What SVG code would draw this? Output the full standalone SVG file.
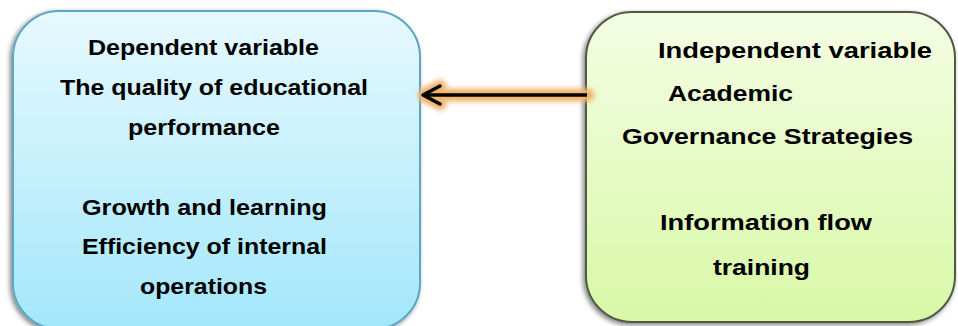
<svg xmlns="http://www.w3.org/2000/svg" width="958" height="326" viewBox="0 0 958 326">
<defs>
<linearGradient id="gBlue" x1="0" y1="0" x2="0" y2="1">
<stop offset="0" stop-color="#e6f9fe"/>
<stop offset="1" stop-color="#a3e7fa"/>
</linearGradient>
<linearGradient id="gGreen" x1="0" y1="0" x2="0" y2="1">
<stop offset="0" stop-color="#f4fde4"/>
<stop offset="1" stop-color="#d8f8a6"/>
</linearGradient>
<filter id="shadow" x="-10%" y="-10%" width="120%" height="120%">
<feGaussianBlur in="SourceAlpha" stdDeviation="2.5"/>
<feOffset dx="-2" dy="2" result="b"/>
<feComponentTransfer><feFuncA type="linear" slope="0.5"/></feComponentTransfer>
<feMerge><feMergeNode/><feMergeNode in="SourceGraphic"/></feMerge>
</filter>
<filter id="glow" filterUnits="userSpaceOnUse" x="400" y="60" width="210" height="70">
<feGaussianBlur stdDeviation="2.5"/>
</filter>
<style>
text{font-family:"Liberation Sans",Arial,sans-serif;font-weight:bold;font-size:22px;fill:#000}
</style>
</defs>
<g id="dependent">
<rect x="13" y="11" width="407" height="318" rx="46" ry="46" fill="url(#gBlue)" stroke="#5aa7c4" stroke-width="2" filter="url(#shadow)"/>
<text x="88" y="55" textLength="231" lengthAdjust="spacingAndGlyphs">Dependent variable</text>
<text x="60" y="95" textLength="308" lengthAdjust="spacingAndGlyphs">The quality of educational</text>
<text x="128" y="135" textLength="152" lengthAdjust="spacingAndGlyphs">performance</text>
<text x="82" y="215" textLength="245" lengthAdjust="spacingAndGlyphs">Growth and learning</text>
<text x="82" y="254" textLength="245" lengthAdjust="spacingAndGlyphs">Efficiency of internal</text>
<text x="140" y="294" textLength="127" lengthAdjust="spacingAndGlyphs">operations</text>
</g>
<g id="independent">
<rect x="586" y="12" width="369" height="310" rx="46" ry="46" fill="url(#gGreen)" stroke="#4f5a45" stroke-width="2" filter="url(#shadow)"/>
<text x="658" y="58" textLength="274" lengthAdjust="spacingAndGlyphs">Independent variable</text>
<text x="668" y="101" textLength="125" lengthAdjust="spacingAndGlyphs">Academic</text>
<text x="622" y="144" textLength="291" lengthAdjust="spacingAndGlyphs">Governance Strategies</text>
<text x="660" y="230" textLength="212" lengthAdjust="spacingAndGlyphs">Information flow</text>
<text x="713" y="275" textLength="97" lengthAdjust="spacingAndGlyphs">training</text>
</g>
<g id="connectors">
<path d="M588 95 L426 95" stroke="#efb46c" stroke-width="13" stroke-linecap="round" fill="none" filter="url(#glow)"/>
<path d="M440 86 L425 95 L440 104" stroke="#efb46c" stroke-width="13" stroke-linecap="round" stroke-linejoin="round" fill="none" filter="url(#glow)"/>
<path d="M587 95 L424 95" stroke="#000" stroke-width="3.5" fill="none"/>
<path d="M440 86 L423 95 L440 104" stroke="#000" stroke-width="3.5" stroke-linecap="round" stroke-linejoin="round" fill="none"/>
</g>
</svg>
